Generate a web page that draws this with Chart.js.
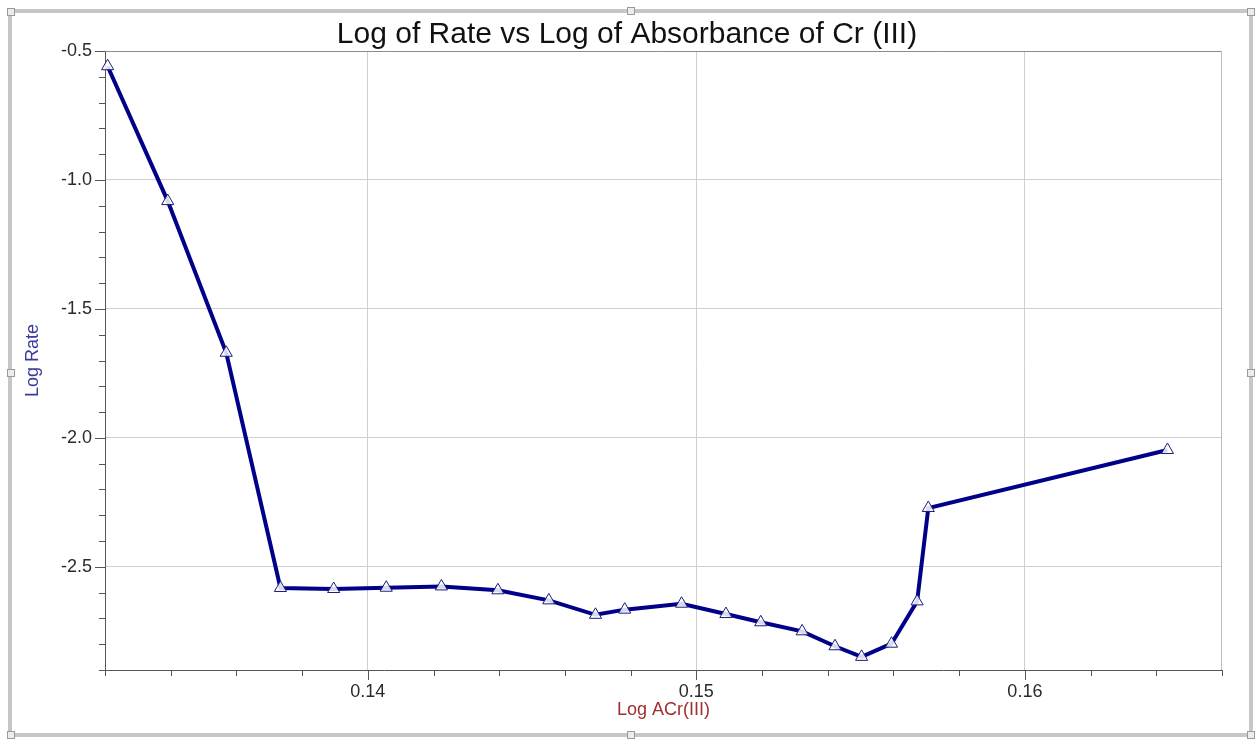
<!DOCTYPE html>
<html>
<head>
<meta charset="utf-8">
<title>Log of Rate vs Log of Absorbance of Cr (III)</title>
<script src="https://cdn.jsdelivr.net/npm/chart.js@4.4.1/dist/chart.umd.min.js"></script>
<style>
  html, body { margin: 0; padding: 0; background: #fff; }
  #wrap { position: relative; width: 1255px; height: 739px; overflow: hidden; }
  #frame { position: absolute; left: 8px; top: 9px; width: 1245px; height: 728px; box-sizing: border-box; border: 4px solid #c6c6c6; }
  .handle { position: absolute; width: 8px; height: 8px; box-sizing: border-box; background: #ececec; border: 1px solid #9a9a9a; }
  #chart { position: absolute; left: 0; top: 0; }
</style>
</head>
<body>
<div id="wrap">
  <div id="frame"></div>
  <div class="handle" style="left:7px;top:8px"></div>
  <div class="handle" style="left:627px;top:7px"></div>
  <div class="handle" style="left:1247px;top:8px"></div>
  <div class="handle" style="left:7px;top:369px"></div>
  <div class="handle" style="left:1247px;top:369px"></div>
  <div class="handle" style="left:7px;top:731px"></div>
  <div class="handle" style="left:627px;top:731px"></div>
  <div class="handle" style="left:1247px;top:731px"></div>
  <canvas id="chart" width="1255" height="739"></canvas>
</div>
<script>
// values
const logAbsorbance = [0.13208, 0.13391, 0.13569, 0.13734, 0.13896, 0.14056, 0.14224,
  0.14396, 0.14551, 0.14693, 0.14782, 0.14955, 0.15090, 0.15196, 0.15322, 0.15422,
  0.15503, 0.15594, 0.15672, 0.15706, 0.16434];
const logRate = [-0.559, -1.082, -1.670, -2.582, -2.586, -2.581, -2.576,
  -2.591, -2.630, -2.686, -2.666, -2.643, -2.683, -2.715, -2.750, -2.808,
  -2.849, -2.798, -2.634, -2.272, -2.047];

const xTickLabels = ['0.14', '0.15', '0.16'];
const yTickLabels = ['-0.5', '-1.0', '-1.5', '-2.0', '-2.5'];

const isLabelled = (v, labels, digits) => labels.includes(v.toFixed(digits)) &&
  Math.abs(v - parseFloat(v.toFixed(digits))) < 1e-9;
const isMajorX = v => isLabelled(v, xTickLabels, 2);
const isMajorY = v => isLabelled(v, yTickLabels, 1);

const points = logAbsorbance.map((x, i) => ({ x: x, y: logRate[i] }));

const FONT = 'Liberation Sans, Arial, sans-serif';

// frame lines and the short/long tick marks outside the plot
const axisMarks = {
  id: 'axisMarks',
  beforeDatasetsDraw(chart) {
    const { ctx, chartArea: a, scales: { x, y } } = chart;
    ctx.save();
    ctx.lineWidth = 1;
    ctx.strokeStyle = '#8c8c8c';
    ctx.beginPath();
    ctx.moveTo(a.left, Math.round(a.top) + 0.5);
    ctx.lineTo(a.right, Math.round(a.top) + 0.5);
    ctx.stroke();
    ctx.strokeStyle = '#bdbdbd';
    ctx.beginPath();
    ctx.moveTo(Math.round(a.right) - 0.5, a.top);
    ctx.lineTo(Math.round(a.right) - 0.5, a.bottom);
    ctx.stroke();

    ctx.strokeStyle = '#555';
    ctx.beginPath();
    x.ticks.forEach(t => {
      const px = Math.round(x.getPixelForValue(t.value)) + 0.5;
      const len = isMajorX(t.value) ? 10 : 6;
      ctx.moveTo(px, a.bottom);
      ctx.lineTo(px, a.bottom + len);
    });
    y.ticks.forEach(t => {
      const py = Math.round(y.getPixelForValue(t.value)) + 0.5;
      const len = isMajorY(t.value) ? 10 : 6;
      ctx.moveTo(a.left, py);
      ctx.lineTo(a.left - len, py);
    });
    ctx.stroke();
    ctx.restore();
  }
};

new Chart(document.getElementById('chart'), {
  type: 'line',
  data: {
    datasets: [{
      label: 'Log Rate',
      data: points,
      borderColor: '#000088',
      borderWidth: 4,
      pointStyle: 'triangle',
      pointRadius: 7,
      pointBorderWidth: 1,
      pointBorderColor: '#1c1c7a',
      pointBackgroundColor: 'rgba(255,255,255,0.85)',
      tension: 0,
      clip: false
    }]
  },
  options: {
    responsive: false,
    animation: false,
    // left/right padding equal so the title centres on the page
    layout: { padding: { left: 32, right: 33, top: 0, bottom: 0 } },
    plugins: {
      legend: { display: false },
      tooltip: { enabled: false },
      title: {
        display: true,
        text: 'Log of Rate vs Log of Absorbance of Cr (III)',
        color: '#111',
        font: { family: FONT, size: 30, weight: 'normal', lineHeight: 1.0 },
        padding: { top: 20, bottom: 1 }
      }
    },
    scales: {
      x: {
        type: 'linear',
        min: 0.132,
        max: 0.166,
        afterFit: scale => { scale.height = 69; },
        ticks: {
          stepSize: 0.002,
          autoSkip: false,
          maxRotation: 0,
          padding: 11,
          color: '#2a2a2a',
          font: { family: FONT, size: 18 },
          callback: v => isMajorX(v) ? v.toFixed(2) : ''
        },
        grid: {
          drawTicks: false,
          color: ctx => ctx.tick && isMajorX(ctx.tick.value) ? '#cfcfcf' : 'rgba(0,0,0,0)'
        },
        border: { color: '#555', width: 1 },
        title: {
          display: true,
          text: 'Log ACr(III)',
          color: '#a03030',
          font: { family: FONT, size: 18 },
          padding: { top: 18, bottom: 18 }
        }
      },
      y: {
        type: 'linear',
        min: -2.9,
        max: -0.5,
        afterFit: scale => { scale.width = 73; },
        ticks: {
          stepSize: 0.1,
          autoSkip: false,
          padding: 13,
          color: '#2a2a2a',
          font: { family: FONT, size: 18 },
          callback: v => isMajorY(v) ? v.toFixed(1) : ''
        },
        grid: {
          drawTicks: false,
          color: ctx => ctx.tick && isMajorY(ctx.tick.value) ? '#cfcfcf' : 'rgba(0,0,0,0)'
        },
        border: { color: '#555', width: 1 },
        title: {
          display: true,
          text: 'Log Rate',
          color: '#3a3a9c',
          font: { family: FONT, size: 18 },
          padding: { top: -10, bottom: 0 }
        }
      }
    }
  },
  plugins: [axisMarks]
});
</script>
</body>
</html>
